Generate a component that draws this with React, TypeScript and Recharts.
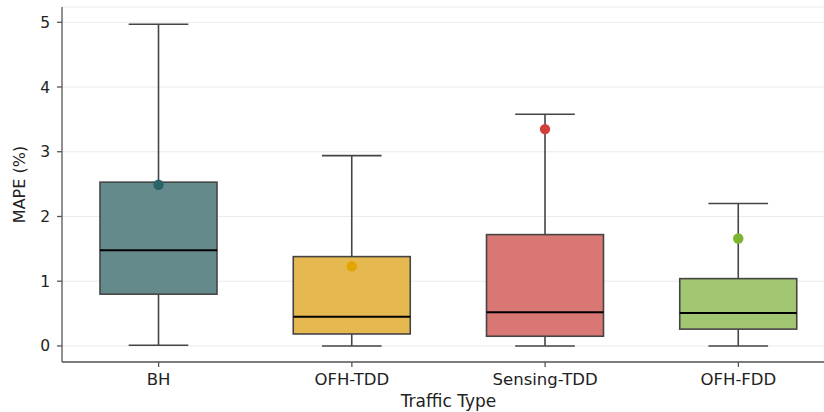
import React from "react";
import { ComposedChart, Bar, XAxis, YAxis, CartesianGrid } from "recharts";

const categories = ["BH", "OFH-TDD", "Sensing-TDD", "OFH-FDD"];
const minValues = [0.01, 0.0, 0.0, 0.0];
const q1Values = [0.8, 0.185, 0.15, 0.26];
const medianValues = [1.48, 0.45, 0.52, 0.51];
const q3Values = [2.53, 1.38, 1.72, 1.04];
const maxValues = [4.97, 2.94, 3.58, 2.2];
const meanValues = [2.49, 1.23, 3.35, 1.66];
const fillColors = ["#648a8c", "#e5b94f", "#d97774", "#a2c672"];
const meanColors = ["#2b6468", "#e3a600", "#d2403a", "#7cb52f"];
const yTicks = [0, 1, 2, 3, 4, 5];

const data = categories.map((name, i) => ({
  name,
  min: minValues[i],
  q1: q1Values[i],
  median: medianValues[i],
  q3: q3Values[i],
  max: maxValues[i],
  mean: meanValues[i],
  fill: fillColors[i],
  meanColor: meanColors[i],
  range: [minValues[i], maxValues[i]],
}));

const BoxShape = (props: any) => {
  const { x, y, width, height, payload } = props;
  if (!payload) return null;
  const lo = payload.min;
  const hi = payload.max;
  const py = (v: number) => y + ((hi - v) * height) / (hi - lo);
  const cx = x + width / 2;
  const capHalf = width * 0.255;
  const edge = "#454545";
  return (
    <g>
      <line x1={cx} x2={cx} y1={py(hi)} y2={py(payload.q3)} stroke={edge} strokeWidth={1.6} />
      <line x1={cx} x2={cx} y1={py(payload.q1)} y2={py(lo)} stroke={edge} strokeWidth={1.6} />
      <line x1={cx - capHalf} x2={cx + capHalf} y1={py(hi)} y2={py(hi)} stroke={edge} strokeWidth={1.6} />
      <line x1={cx - capHalf} x2={cx + capHalf} y1={py(lo)} y2={py(lo)} stroke={edge} strokeWidth={1.6} />
      <rect
        x={x}
        y={py(payload.q3)}
        width={width}
        height={py(payload.q1) - py(payload.q3)}
        fill={payload.fill}
        stroke={edge}
        strokeWidth={1.6}
      />
      <line x1={x} x2={x + width} y1={py(payload.median)} y2={py(payload.median)} stroke="#000" strokeWidth={2} />
      <circle cx={cx} cy={py(payload.mean)} r={5.2} fill={payload.meanColor} />
    </g>
  );
};

export default function App() {
  return (
    <div style={{ position: "absolute", left: 0, top: 0, width: 824, height: 412, overflow: "hidden", background: "#fff" }}>
      <ComposedChart
        width={840}
        height={412}
        data={data}
        margin={{ top: 7, right: 5, left: 0, bottom: 0 }}
      >
        <CartesianGrid vertical={false} stroke="#ebebeb" strokeWidth={1} />
        <XAxis
          dataKey="name"
          height={50}
          tickSize={5}
          tickMargin={6}
          stroke="#555"
          strokeWidth={1.3}
          tick={{ fill: "#222", fontSize: 16.5, fontFamily: "DejaVu Sans" }}
          label={{
            value: "Traffic Type",
            position: "insideBottom",
            offset: 5,
            style: { fill: "#222", fontSize: 17, fontFamily: "DejaVu Sans" },
          }}
        />
        <YAxis
          width={62}
          domain={[-0.248, 5.236]}
          ticks={yTicks}
          allowDataOverflow
          tickSize={5}
          tickMargin={7}
          stroke="#555"
          strokeWidth={1.3}
          tick={{ fill: "#222", fontSize: 15.5, fontFamily: "DejaVu Sans" }}
          label={{
            value: "MAPE (%)",
            angle: -90,
            position: "insideLeft",
            offset: 19,
            style: { fill: "#222", fontSize: 16, fontFamily: "DejaVu Sans", textAnchor: "middle" },
          }}
        />
        <Bar dataKey="range" barSize={117} shape={<BoxShape />} isAnimationActive={false} />
      </ComposedChart>
    </div>
  );
}
